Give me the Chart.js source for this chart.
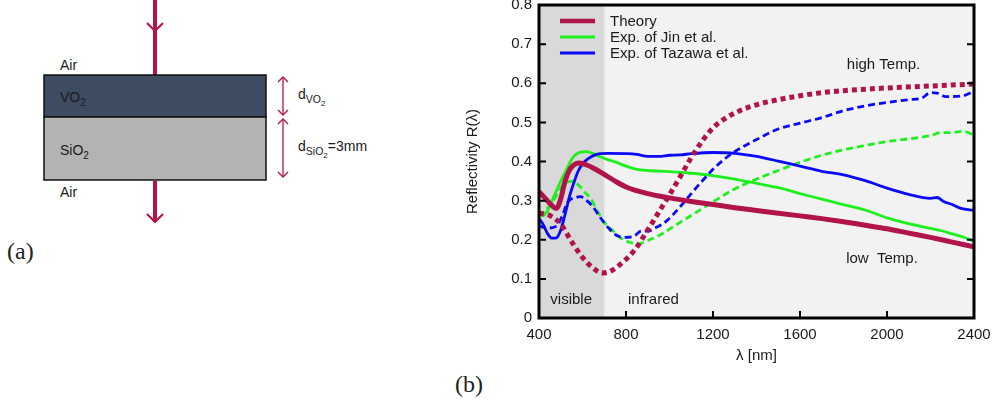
<!DOCTYPE html>
<html>
<head>
<meta charset="utf-8">
<title>VO2 reflectivity</title>
<script src="https://cdn.jsdelivr.net/npm/chart.js@4.4.0/dist/chart.umd.min.js"></script>
<style>
    html, body { margin: 0; padding: 0; background: #fff; }
    body { width: 999px; height: 401px; position: relative; overflow: hidden; font-family: 'Liberation Sans', Arial, sans-serif; }
    #scheme { position: absolute; left: 0; top: 0; }
    #chartWrap { position: absolute; left: 440px; top: 0; width: 559px; height: 401px; }
    .panel { position: absolute; font-family: 'Liberation Serif', serif; font-size: 24px; color: #222; }
</style>
</head>
<body>

<!-- (a) sample sketch -->
<svg id="scheme" width="440" height="401" font-family="Liberation Sans, Arial, sans-serif" font-size="14" fill="#1a1a1a">
    <line x1="155" y1="0" x2="155" y2="75" stroke="#b5124a" stroke-width="4"/>
    <polyline points="147,23 155,31 163,23" fill="none" stroke="#b5124a" stroke-width="2"/>
    <rect x="44" y="75" width="222" height="42" fill="#3e4c62" stroke="#111" stroke-width="1.5"/>
    <rect x="44" y="117" width="222" height="63" fill="#b3b3b3" stroke="#111" stroke-width="1.5"/>
    <line x1="155" y1="181" x2="155" y2="222" stroke="#b5124a" stroke-width="4"/>
    <polyline points="147,214 155,222 163,214" fill="none" stroke="#b5124a" stroke-width="2"/>

    <g stroke="#b5124a" stroke-width="1.3" fill="none">
        <line x1="283" y1="77" x2="283" y2="115"/>
        <polyline points="278,82 283,77 288,82"/>
        <polyline points="278,110 283,115 288,110"/>
        <line x1="283" y1="119" x2="283" y2="177"/>
        <polyline points="278,124 283,119 288,124"/>
        <polyline points="278,172 283,177 288,172"/>
    </g>

    <text x="60" y="70">Air</text>
    <text x="60" y="102">VO<tspan dy="4" font-size="10">2</tspan></text>
    <text x="60" y="155">SiO<tspan dy="4" font-size="10">2</tspan></text>
    <text x="60" y="197">Air</text>
    <text x="298" y="99">d<tspan dy="4" font-size="10.5">VO</tspan><tspan dy="3" font-size="8">2</tspan></text>
    <text x="298" y="151">d<tspan dy="4" font-size="10.5">SiO</tspan><tspan dy="3" font-size="8">2</tspan><tspan dy="-7">=3mm</tspan></text>
</svg>
<div class="panel" style="left:7px; top:238px;">(a)</div>
<div class="panel" style="left:455px; top:371px;">(b)</div>

<div id="chartWrap"><canvas id="reflChart" width="559" height="401"></canvas></div>

<script>
// Reflectivity of a VO2 film on SiO2: theory vs. two experiments

const X_TICKS = [400, 800, 1200, 1600, 2000, 2400];
const Y_TICKS = [0, 0.1, 0.2, 0.3, 0.4, 0.5, 0.6, 0.7, 0.8];
const VISIBLE_RANGE = [400, 700]; // nm, shaded band

// Theory, low temperature (solid) and high temperature (dotted)
const theoryLowNm = [400, 430, 460, 480, 500, 520, 540, 560, 585, 620, 660, 700, 750, 800, 900, 1000, 1100, 1200, 1300, 1400, 1500, 1600, 1700, 1800, 1900, 2000, 2100, 2200, 2300, 2400];
const theoryLowR = [0.323, 0.305, 0.287, 0.28, 0.305, 0.35, 0.378, 0.391, 0.396, 0.391, 0.38, 0.367, 0.35, 0.335, 0.318, 0.307, 0.298, 0.29, 0.282, 0.275, 0.268, 0.261, 0.254, 0.246, 0.237, 0.228, 0.217, 0.206, 0.194, 0.182];
const theoryHighNm = [400, 450, 500, 550, 600, 650, 690, 730, 780, 840, 900, 950, 1000, 1050, 1100, 1150, 1200, 1250, 1300, 1400, 1500, 1600, 1700, 1800, 2000, 2200, 2400];
const theoryHighR = [0.268, 0.262, 0.24, 0.195, 0.155, 0.127, 0.115, 0.12, 0.14, 0.174, 0.225, 0.27, 0.315, 0.362, 0.41, 0.452, 0.486, 0.508, 0.524, 0.545, 0.558, 0.568, 0.576, 0.581, 0.588, 0.593, 0.598];

// Jin et al.
const jinLowNm = [400, 420, 440, 460, 480, 500, 520, 540, 560, 590, 620, 650, 680, 710, 760, 800, 850, 900, 1000, 1100, 1200, 1300, 1400, 1500, 1600, 1700, 1800, 1900, 2000, 2100, 2200, 2250, 2300, 2350, 2400];
const jinLowR = [0.263, 0.262, 0.275, 0.3, 0.325, 0.35, 0.372, 0.395, 0.413, 0.424, 0.425, 0.42, 0.412, 0.406, 0.397, 0.388, 0.38, 0.377, 0.374, 0.37, 0.364, 0.355, 0.344, 0.333, 0.318, 0.304, 0.29, 0.276, 0.256, 0.241, 0.229, 0.223, 0.215, 0.207, 0.196];
const jinHighNm = [400, 430, 460, 490, 520, 550, 580, 610, 640, 670, 700, 740, 780, 820, 860, 900, 950, 1000, 1050, 1100, 1200, 1300, 1400, 1500, 1600, 1700, 1800, 1900, 2000, 2100, 2200, 2250, 2300, 2350, 2400];
const jinHighR = [0.26, 0.275, 0.295, 0.322, 0.345, 0.349, 0.341, 0.322, 0.303, 0.272, 0.245, 0.223, 0.203, 0.193, 0.19, 0.198, 0.21, 0.227, 0.245, 0.262, 0.297, 0.33, 0.355, 0.377, 0.398, 0.416, 0.43, 0.441, 0.451, 0.458, 0.466, 0.474, 0.474, 0.477, 0.468];

// Tazawa et al.
const tazawaLowNm = [400, 420, 440, 460, 480, 500, 520, 540, 560, 580, 600, 620, 650, 680, 720, 800, 850, 900, 950, 1000, 1050, 1100, 1200, 1300, 1400, 1500, 1600, 1700, 1800, 1900, 2000, 2100, 2200, 2230, 2260, 2300, 2340, 2400];
const tazawaLowR = [0.255, 0.238, 0.215, 0.204, 0.205, 0.225, 0.265, 0.31, 0.345, 0.375, 0.394, 0.405, 0.415, 0.42, 0.421, 0.42, 0.418, 0.413, 0.413, 0.416, 0.417, 0.42, 0.423, 0.421, 0.413, 0.401, 0.388, 0.375, 0.366, 0.351, 0.332, 0.316, 0.306, 0.308, 0.298, 0.29, 0.28, 0.275];
const tazawaHighNm = [400, 440, 480, 510, 530, 560, 590, 620, 650, 680, 720, 760, 800, 840, 870, 900, 940, 980, 1050, 1100, 1150, 1200, 1250, 1300, 1400, 1500, 1600, 1700, 1800, 1900, 2000, 2100, 2160, 2200, 2230, 2270, 2340, 2400];
const tazawaHighR = [0.235, 0.23, 0.235, 0.265, 0.295, 0.307, 0.31, 0.3, 0.283, 0.258, 0.23, 0.21, 0.206, 0.21, 0.222, 0.222, 0.232, 0.245, 0.285, 0.318, 0.35, 0.38, 0.405, 0.425, 0.456, 0.483, 0.498, 0.512, 0.53, 0.542, 0.551, 0.558, 0.562, 0.576, 0.575, 0.566, 0.567, 0.579];

const LEGEND_LABELS = ['Theory', 'Exp. of Jin et al.', 'Exp. of Tazawa et al.'];

// text placed inside the plot (wavelength, reflectivity)
const NOTES = [
    { text: 'visible', nm: 548, r: 0.047 },
    { text: 'infrared', nm: 926, r: 0.047 },
    { text: 'high Temp.', nm: 1984, r: 0.647 },
    { text: 'low  Temp.', nm: 1977, r: 0.151 }
];

const CRIMSON = '#b0144a';
const GREEN = '#1ef01e';
const BLUE = '#0a0af5';
const TEXT_COLOR = '#1a1a1a';
const FONT = { family: "'Liberation Sans', Arial, sans-serif", size: 15 };
const FONT_CSS = "15px 'Liberation Sans', Arial, sans-serif";

function toPoints(xs, ys) {
    return xs.map((x, i) => ({ x: x, y: ys[i] }));
}

function series(label, xs, ys, color, width, dash) {
    return {
        label: label,
        data: toPoints(xs, ys),
        borderColor: color,
        borderWidth: width,
        borderDash: dash,
        borderCapStyle: 'butt',
        pointRadius: 0,
        fill: false,
        cubicInterpolationMode: 'monotone'
    };
}

// index 0 is painted last, so theory sits on top
const datasets = [
    series(LEGEND_LABELS[0], theoryLowNm, theoryLowR, CRIMSON, 5, []),
    series(LEGEND_LABELS[0] + ' (high T)', theoryHighNm, theoryHighR, CRIMSON, 5, [5, 4]),
    series(LEGEND_LABELS[2], tazawaLowNm, tazawaLowR, BLUE, 2.8, []),
    series(LEGEND_LABELS[2] + ' (high T)', tazawaHighNm, tazawaHighR, BLUE, 2.8, [7, 4]),
    series(LEGEND_LABELS[1], jinLowNm, jinLowR, GREEN, 2.8, []),
    series(LEGEND_LABELS[1] + ' (high T)', jinHighNm, jinHighR, GREEN, 2.8, [7, 4])
];

const LEGEND_STYLE = [
    { color: CRIMSON, width: 4.5 },
    { color: GREEN, width: 3 },
    { color: BLUE, width: 3 }
];

// background bands, inward ticks, frame, legend and notes
const framePlugin = {
    id: 'frame',
    beforeDatasetsDraw(chart) {
        const { ctx, chartArea: a, scales: { x } } = chart;
        ctx.save();
        ctx.fillStyle = '#f2f2f2';
        ctx.fillRect(a.left, a.top, a.width, a.height);
        const v0 = x.getPixelForValue(VISIBLE_RANGE[0]);
        const v1 = x.getPixelForValue(VISIBLE_RANGE[1]);
        ctx.fillStyle = '#d9d9d9';
        ctx.fillRect(v0, a.top, v1 - v0, a.height);
        ctx.restore();
    },
    afterDatasetsDraw(chart) {
        const { ctx, chartArea: a, scales: { x, y } } = chart;
        ctx.save();

        ctx.font = FONT_CSS;
        ctx.fillStyle = TEXT_COLOR;
        ctx.textAlign = 'center';
        ctx.textBaseline = 'middle';
        NOTES.forEach(n => ctx.fillText(n.text, x.getPixelForValue(n.nm), y.getPixelForValue(n.r)));

        // legend
        ctx.textAlign = 'left';
        LEGEND_LABELS.forEach((label, i) => {
            const ly = a.top + 16 + i * 16;
            ctx.beginPath();
            ctx.strokeStyle = LEGEND_STYLE[i].color;
            ctx.lineWidth = LEGEND_STYLE[i].width;
            ctx.moveTo(a.left + 21, ly);
            ctx.lineTo(a.left + 56, ly);
            ctx.stroke();
            ctx.fillText(label, a.left + 71, ly + 1);
        });

        // inward ticks
        ctx.strokeStyle = '#000';
        ctx.lineWidth = 2;
        ctx.beginPath();
        X_TICKS.forEach(v => {
            const px = x.getPixelForValue(v);
            ctx.moveTo(px, a.bottom);
            ctx.lineTo(px, a.bottom - 7);
        });
        Y_TICKS.forEach(v => {
            const py = y.getPixelForValue(v);
            ctx.moveTo(a.left, py);
            ctx.lineTo(a.left + 7, py);
            ctx.moveTo(a.right, py);
            ctx.lineTo(a.right - 7, py);
        });
        ctx.stroke();

        ctx.lineWidth = 3;
        ctx.strokeRect(a.left, a.top, a.width, a.height);
        ctx.restore();
    }
};

new Chart(document.getElementById('reflChart'), {
    type: 'line',
    data: { datasets: datasets },
    plugins: [framePlugin],
    options: {
        responsive: false,
        animation: false,
        devicePixelRatio: 1,
        layout: { padding: { top: 5, right: 25, left: 0, bottom: 0 } },
        plugins: {
            legend: { display: false },
            tooltip: { enabled: false }
        },
        scales: {
            x: {
                type: 'linear',
                min: 400,
                max: 2400,
                afterBuildTicks: s => { s.ticks = X_TICKS.map(v => ({ value: v })); },
                afterFit: s => { s.height = 83; s.paddingLeft = 0; s.paddingRight = 0; },
                grid: { display: false, drawTicks: false },
                border: { display: false },
                ticks: {
                    padding: 8,
                    font: FONT,
                    color: TEXT_COLOR,
                    maxRotation: 0,
                    autoSkip: false,
                    callback: v => String(v)
                },
                title: { display: true, text: 'λ [nm]', font: FONT, color: TEXT_COLOR, padding: { top: 0, bottom: 36 } }
            },
            y: {
                min: 0,
                max: 0.8,
                afterBuildTicks: s => { s.ticks = Y_TICKS.map(v => ({ value: v })); },
                afterFit: s => { s.width = 99; s.paddingTop = 0; s.paddingBottom = 0; },
                grid: { display: false, drawTicks: false },
                border: { display: false },
                ticks: {
                    padding: 7,
                    font: FONT,
                    color: TEXT_COLOR,
                    callback: v => String(Math.round(v * 10) / 10)
                },
                title: { display: true, text: 'Reflectivity R(λ)', font: FONT, color: TEXT_COLOR, padding: { top: 24, bottom: 0 } }
            }
        }
    }
});
</script>
</body>
</html>
